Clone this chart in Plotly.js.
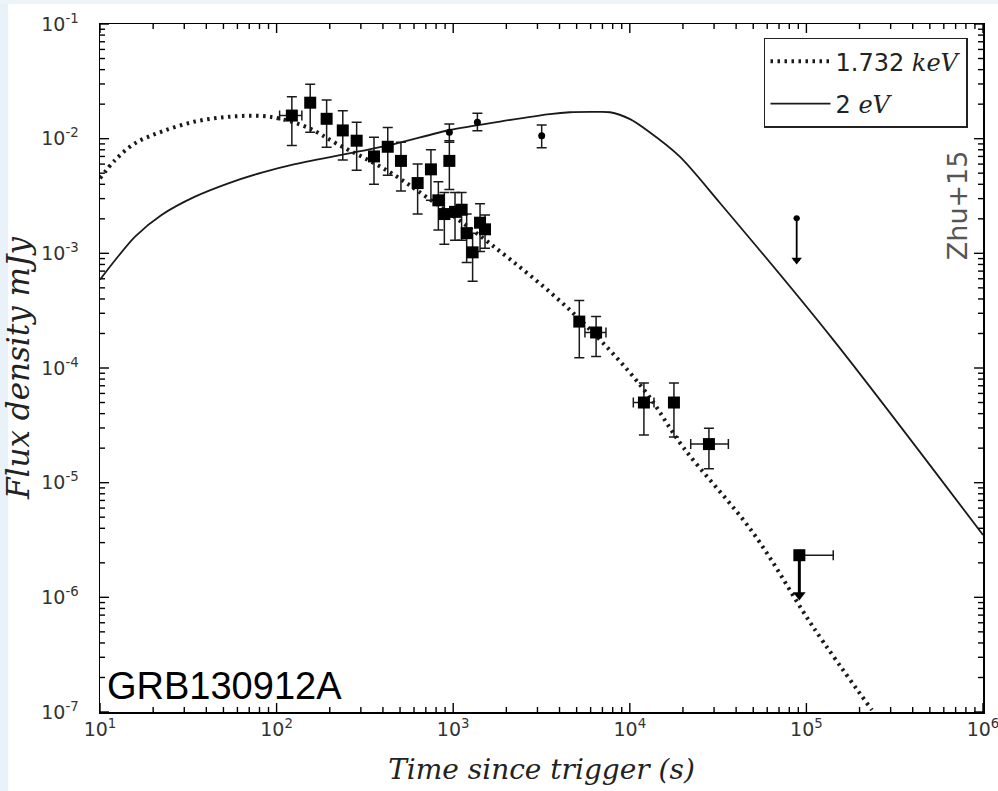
<!DOCTYPE html>
<html>
<head>
<meta charset="utf-8">
<script src="https://cdn.plot.ly/plotly-3.0.1.min.js"></script>
<style>html,body{margin:0;padding:0;background:#fff;}#chart{width:998px;height:791px;}</style>
</head>
<body>
<div id="chart"></div>
<script>
// ---- model curves ----
const modelXrayT = [10, 12.2, 15.8, 22.3, 34.5, 53, 82, 107, 150, 220, 420, 750, 1614, 4770, 11900, 20000, 49900, 109000, 235000];
const modelXrayF = [4.52e-3, 6.52e-3, 9.12e-3, 1.15e-2, 1.41e-2, 1.55e-2, 1.58e-2, 1.48e-2, 1.25e-2, 9.0e-3, 5.3e-3, 2.9e-3, 1.22e-3, 3.02e-4, 6.6e-5, 2.05e-5, 3.65e-6, 5.53e-7, 1.04e-7];

const modelOptT = [10, 12.2, 15.8, 22.3, 34.5, 53.3, 82.4, 127, 438, 960, 1840, 3530, 4580, 6200, 7730, 10030, 12450, 19200, 32400, 142000, 1000000];
const modelOptF = [5.9e-4, 8.75e-4, 1.40e-3, 2.16e-3, 3.12e-3, 4.08e-3, 5.06e-3, 6.0e-3, 8.8e-3, 1.19e-2, 1.41e-2, 1.64e-2, 1.70e-2, 1.71e-2, 1.70e-2, 1.48e-2, 1.19e-2, 6.97e-3, 2.75e-3, 1.76e-4, 3.5e-6];

// ---- X-ray detections (squares) ----
const xrayT   = [122, 155, 192, 237, 284, 356, 426, 506, 629, 748, 824, 891, 951, 1024, 1116, 1192, 1288, 1419, 1514, 5176, 6444, 12020, 17780, 28060];
const xrayF   = [0.0159, 0.0206, 0.0149, 0.0118, 0.0096, 0.0070, 0.0085, 0.0064, 0.0041, 0.0054, 0.0029, 0.0022, 0.0064, 0.0023, 0.0024, 0.0015, 0.00102, 0.00185, 0.00162, 2.54e-4, 2.04e-4, 5.0e-5, 5.0e-5, 2.17e-5];
const xrayHi  = [0.0232, 0.0298, 0.0217, 0.0175, 0.0139, 0.0103, 0.0125, 0.0093, 0.0060, 0.0080, 0.0042, 0.0034, 0.0096, 0.0034, 0.0034, 0.0022, 0.0015, 0.0027, 0.00216, 3.87e-4, 2.81e-4, 7.4e-5, 7.4e-5, 2.98e-5];
const xrayLo  = [0.0087, 0.0114, 0.0084, 0.0065, 0.0053, 0.0040, 0.0048, 0.0035, 0.0022, 0.0029, 0.0016, 0.0012, 0.0036, 0.0013, 0.0013, 0.00083, 0.00057, 0.00104, 0.00111, 1.23e-4, 1.26e-4, 2.6e-5, 2.5e-5, 1.32e-5];
const xrayTlo = [104, 155, 192, 237, 284, 356, 426, 506, 629, 748, 824, 891, 951, 1024, 1116, 1192, 1288, 1419, 1514, 5176, 5570, 10470, 17780, 22130];
const xrayThi = [139, 155, 192, 237, 284, 356, 426, 506, 629, 748, 824, 891, 951, 1024, 1116, 1192, 1288, 1419, 1514, 5176, 7330, 13710, 17780, 36160];

// X-ray upper limit
const xrayLimT = [91200];
const xrayLimF = [2.33e-6];
const xrayLimArrow = [1.05e-6];
const xrayLimThi = [141900];

// ---- optical detections (small dots) ----
const optT  = [951, 1371, 3170];
const optF  = [0.01138, 0.0139, 0.01061];
const optHi = [0.01343, 0.01664, 0.01315];
const optLo = [0.0093, 0.01175, 0.00835];

// optical upper limit
const optLimT = [88100];
const optLimF = [2.02e-3];
const optLimArrow = [8.75e-4];

// axis ranges (decades) and ticks
const xDecades = [1, 6];
const yDecades = [-7, -1];
const xTickVals = [1e1, 1e2, 1e3, 1e4, 1e5, 1e6];
const xTickText = ['10<sup>1</sup>', '10<sup>2</sup>', '10<sup>3</sup>', '10<sup>4</sup>', '10<sup>5</sup>', '10<sup>6</sup>'];
const yTickVals = [1e-7, 1e-6, 1e-5, 1e-4, 1e-3, 1e-2, 1e-1];
const yTickText = ['10<sup>-7</sup>', '10<sup>-6</sup>', '10<sup>-5</sup>', '10<sup>-4</sup>', '10<sup>-3</sup>', '10<sup>-2</sup>', '10<sup>-1</sup>'];
const minorDigits = [2, 3, 4, 5, 6, 7, 8, 9];

function minorTicks(majors) {
  const out = [];
  majors.slice(0, -1).forEach(m => minorDigits.forEach(d => out.push(m * d)));
  return out;
}

const sub = (a, b) => a.map((v, i) => v - b[i]);

// ---- plot geometry (pixels) ----
const W = 998, H = 791;
const M = {l: 100, r: 15, t: 24, b: 79};
const plotW = W - M.l - M.r, plotH = H - M.t - M.b;
const pxPerDecX = plotW / (xDecades[1] - xDecades[0]);
const pxPerDecY = plotH / (yDecades[1] - yDecades[0]);

// tick marks built as line segments through the axes' own log scales
function tickTrace(majorLen, minorLen, width) {
  const xs = [], ys = [];
  const yBot = Math.pow(10, yDecades[0]), yTop = Math.pow(10, yDecades[1]);
  const xLeft = Math.pow(10, xDecades[0]), xRight = Math.pow(10, xDecades[1]);
  [[xTickVals, majorLen], [minorTicks(xTickVals), minorLen]].forEach(([vals, len]) => vals.forEach(v => {
    const f = Math.pow(10, len / pxPerDecY);
    xs.push(v, v, null, v, v, null);
    ys.push(yBot, yBot * f, null, yTop, yTop / f, null);
  }));
  [[yTickVals, majorLen], [minorTicks(yTickVals), minorLen]].forEach(([vals, len]) => vals.forEach(v => {
    const f = Math.pow(10, len / pxPerDecX);
    xs.push(xLeft, xLeft * f, null, xRight, xRight / f, null);
    ys.push(v, v, null, v, v, null);
  }));
  return {x: xs, y: ys, type: 'scatter', mode: 'lines', showlegend: false, hoverinfo: 'skip', cliponaxis: false,
          connectgaps: false, line: {color: '#000', width: width}};
}

const traces = [
  tickTrace(9, 5, 1.4),
  {
    x: modelXrayT, y: modelXrayF, type: 'scatter', mode: 'lines', legendgroup: 'a',
    name: '1.732 <i><span style="font-family:DejaVu Serif">keV</span></i>',
    line: {color: '#1a1a1a', width: 4, dash: '2.5px,4.5px', shape: 'spline', smoothing: 1},
    hoverinfo: 'skip'
  },
  {
    x: modelOptT, y: modelOptF, type: 'scatter', mode: 'lines', legendgroup: 'b',
    name: '2 <i><span style="font-family:DejaVu Serif">eV</span></i>',
    line: {color: '#1a1a1a', width: 1.8, shape: 'spline', smoothing: 0.8},
    hoverinfo: 'skip'
  },
  {
    x: xrayT, y: xrayF, type: 'scatter', mode: 'markers', showlegend: false,
    marker: {symbol: 'square', size: 12, color: '#000'},
    error_y: {type: 'data', symmetric: false, array: sub(xrayHi, xrayF), arrayminus: sub(xrayF, xrayLo), color: '#1a1a1a', thickness: 1.5, width: 5},
    error_x: {type: 'data', symmetric: false, array: sub(xrayThi, xrayT), arrayminus: sub(xrayT, xrayTlo), color: '#1a1a1a', thickness: 1.5, width: 5}
  },
  {
    x: xrayLimT, y: xrayLimF, type: 'scatter', mode: 'markers', showlegend: false,
    marker: {symbol: 'square', size: 12, color: '#000'},
    error_y: {type: 'data', symmetric: false, array: [0], arrayminus: sub(xrayLimF, xrayLimArrow), color: '#000', thickness: 3, width: 0},
    error_x: {type: 'data', symmetric: false, array: sub(xrayLimThi, xrayLimT), arrayminus: [0], color: '#1a1a1a', thickness: 1.5, width: 5}
  },
  {
    x: xrayLimT, y: xrayLimArrow, type: 'scatter', mode: 'markers', showlegend: false,
    marker: {symbol: 'triangle-down', size: 11, color: '#000'}
  },
  {
    x: optT, y: optF, type: 'scatter', mode: 'markers', showlegend: false,
    marker: {symbol: 'circle', size: 7, color: '#000'},
    error_y: {type: 'data', symmetric: false, array: sub(optHi, optF), arrayminus: sub(optF, optLo), color: '#1a1a1a', thickness: 1.5, width: 5}
  },
  {
    x: optLimT, y: optLimF, type: 'scatter', mode: 'markers', showlegend: false,
    marker: {symbol: 'circle', size: 6, color: '#000'},
    error_y: {type: 'data', symmetric: false, array: [0], arrayminus: sub(optLimF, optLimArrow), color: '#000', thickness: 1.8, width: 3}
  },
  {
    x: optLimT, y: optLimArrow, type: 'scatter', mode: 'markers', showlegend: false,
    marker: {symbol: 'triangle-down', size: 9, color: '#000'}
  }
];

const axisCommon = {
  type: 'log', showgrid: false, zeroline: false,
  showline: true, linecolor: '#000', linewidth: 1.5, mirror: true,
  ticks: '', tickmode: 'array', ticklabeloverflow: 'allow',
  tickfont: {family: 'DejaVu Sans', size: 19, color: '#333'}
};

const layout = {
  width: W, height: H,
  margin: M,
  paper_bgcolor: '#fff', plot_bgcolor: '#fff',
  showlegend: true,
  xaxis: Object.assign({}, axisCommon, {
    range: xDecades, tickvals: xTickVals, ticktext: xTickText,
    title: {text: 'Time since trigger (s)', font: {family: 'DejaVu Serif', size: 28, color: '#222', style: 'italic'}, standoff: 20}
  }),
  yaxis: Object.assign({}, axisCommon, {
    range: yDecades, tickvals: yTickVals, ticktext: yTickText, ticklabelstandoff: 16,
    title: {text: 'Flux density mJy', font: {family: 'DejaVu Serif', size: 31, color: '#222', style: 'italic'}, standoff: 6}
  }),
  legend: {
    x: 0.983, y: 0.98, xanchor: 'right', yanchor: 'top',
    bgcolor: '#fff', bordercolor: '#222', borderwidth: 1.5,
    font: {family: 'DejaVu Sans', size: 24, color: '#222'},
    itemwidth: 60, tracegroupgap: 8
  },
  shapes: [
    {type: 'rect', xref: 'paper', yref: 'paper', x0: -0.12, x1: -0.104, y0: -0.2, y1: 1.1, fillcolor: '#e9f2f9', line: {width: 0}, layer: 'below'},
    {type: 'rect', xref: 'paper', yref: 'paper', x0: -0.12, x1: 1.1, y0: 1.029, y1: 1.1, fillcolor: '#edf4fa', line: {width: 0}, layer: 'below'}
  ],
  annotations: [
    {text: 'GRB130912A', xref: 'paper', yref: 'paper', x: 0.006, y: 0.038, xanchor: 'left', yanchor: 'middle',
     showarrow: false, font: {family: 'Liberation Sans', size: 38, color: '#000'}},
    {text: 'Zhu+15', xref: 'paper', yref: 'paper', x: 0.972, y: 0.737, xanchor: 'center', yanchor: 'middle',
     textangle: -90, showarrow: false, font: {family: 'DejaVu Sans', size: 27, color: '#555'}}
  ]
};

Plotly.newPlot('chart', traces, layout, {displayModeBar: false, staticPlot: true});
</script>
</body>
</html>
